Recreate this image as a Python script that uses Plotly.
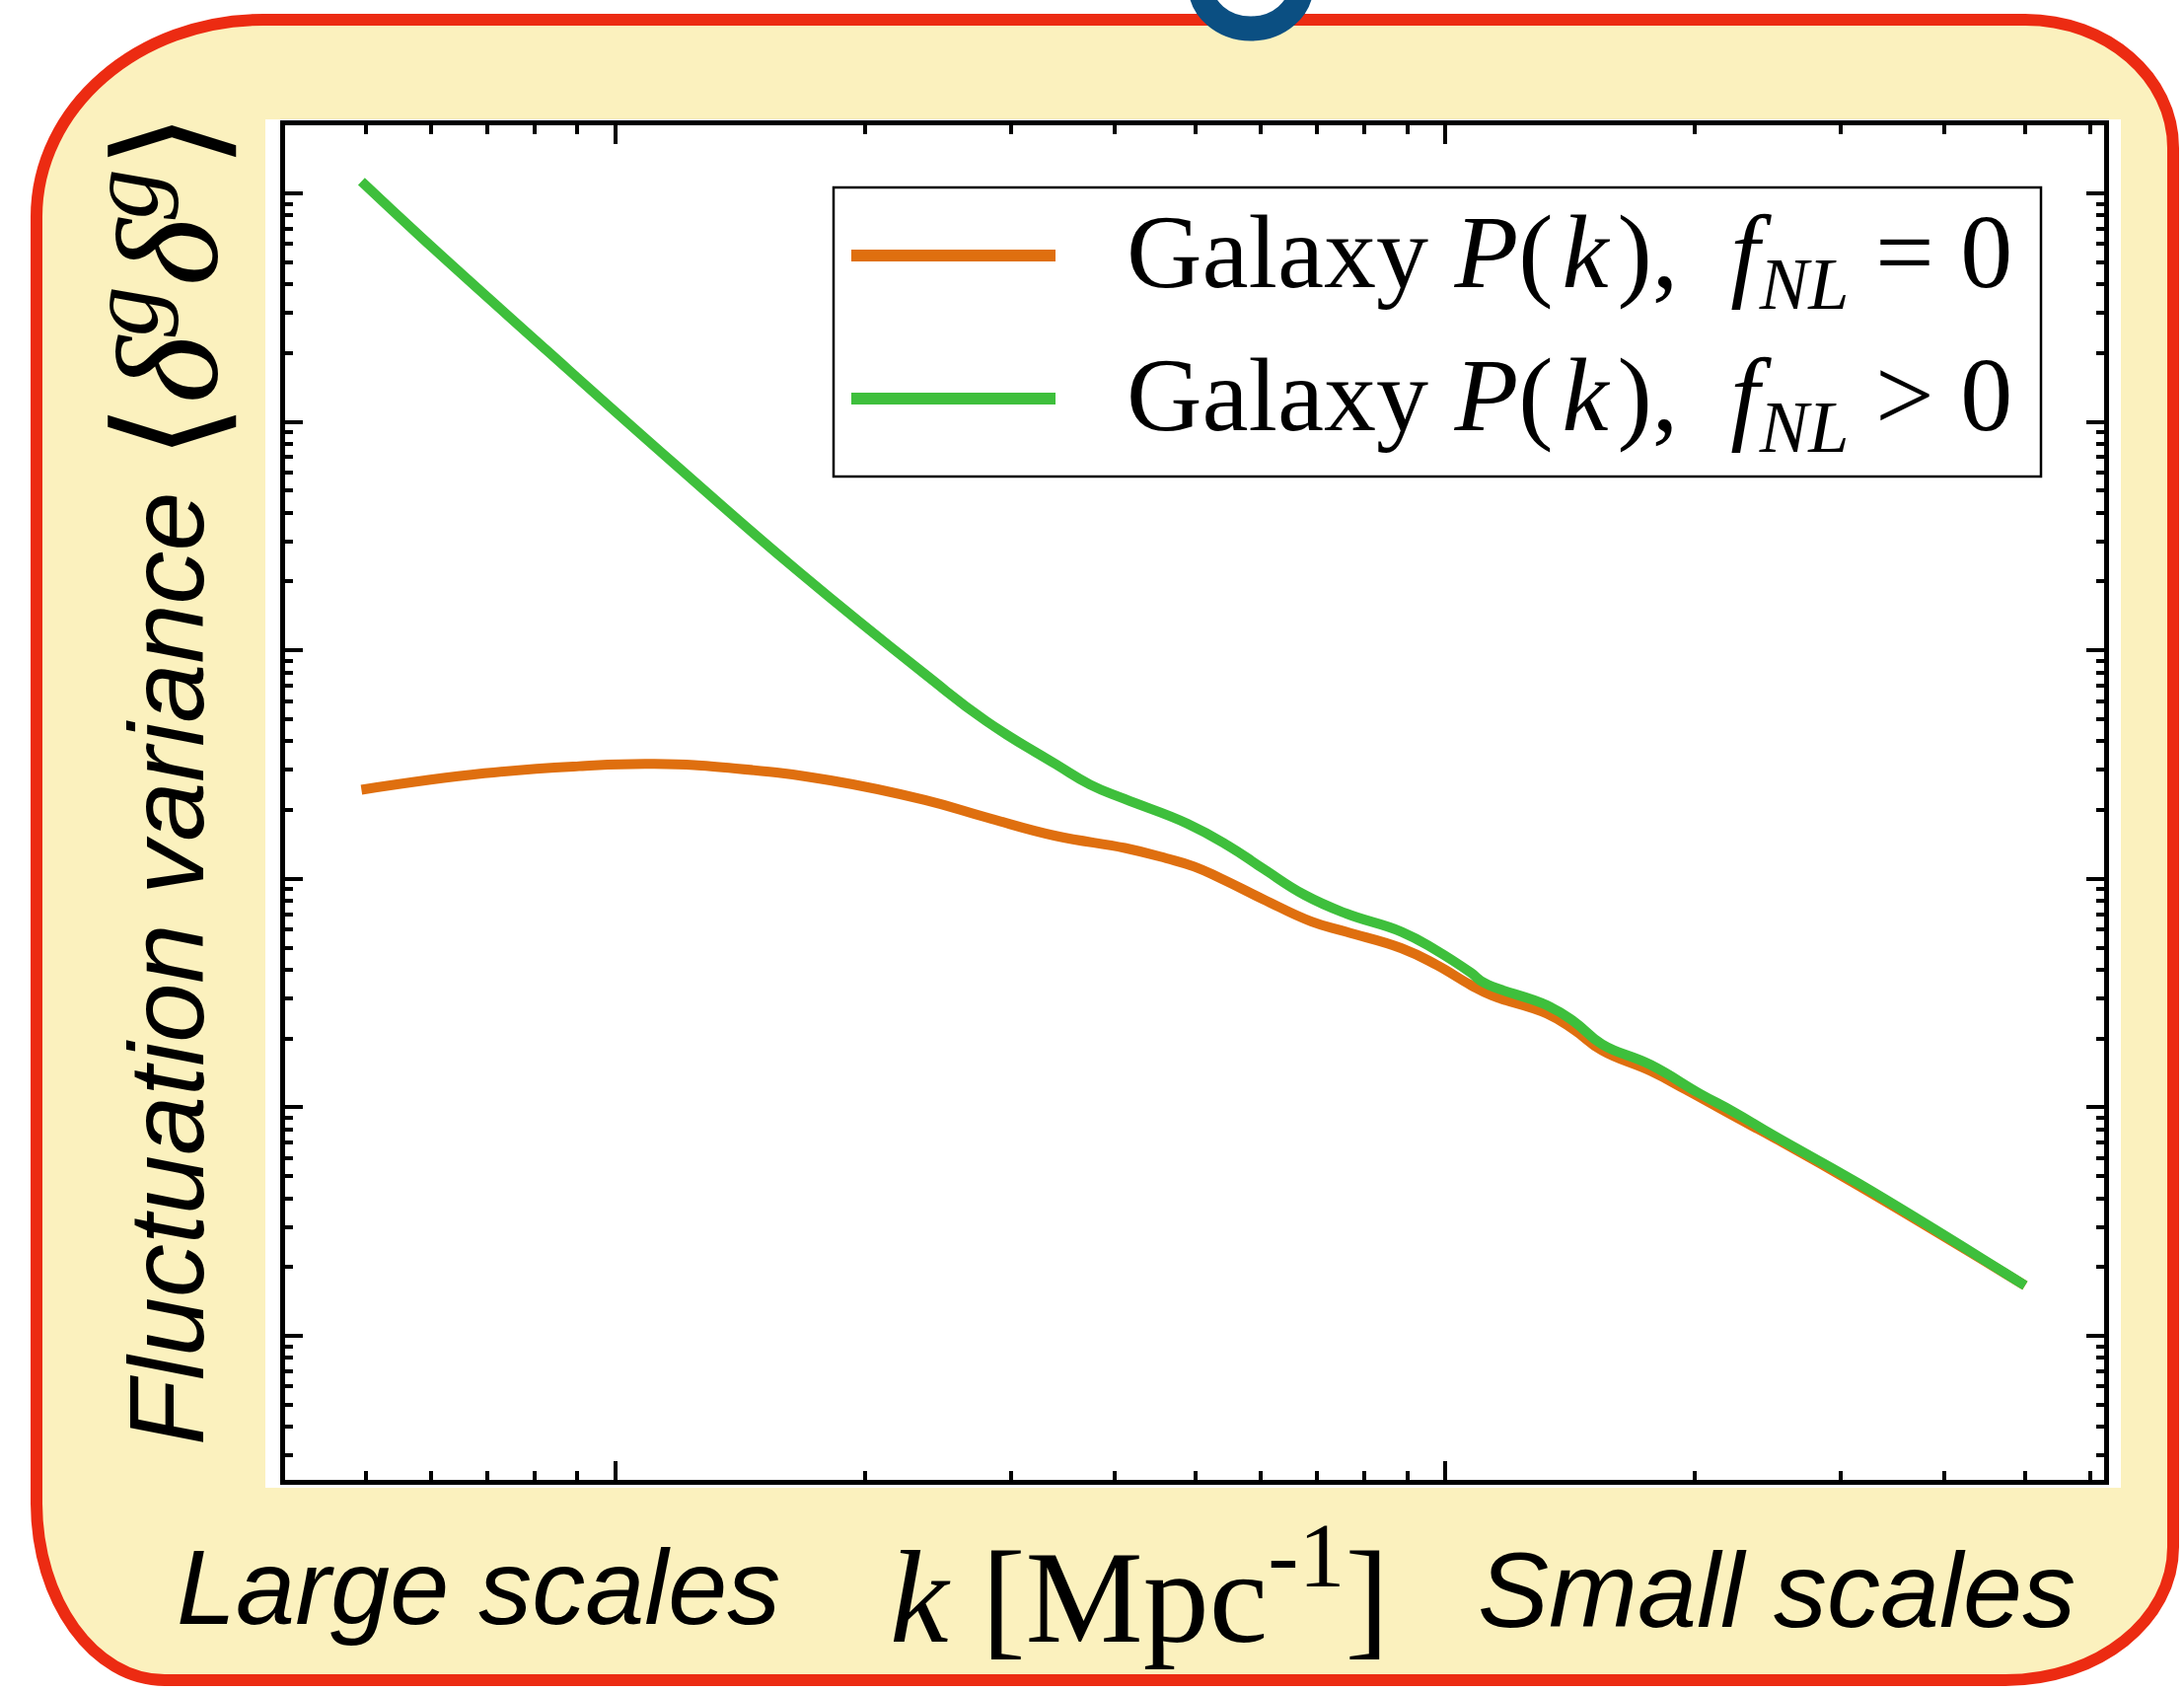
import plotly.graph_objects as go

# ---------------- data ----------------
k_fnl0 = [0.00494, 0.00695, 0.009036, 0.01114, 0.01396, 0.01816, 0.0236, 0.02799,
          0.03393, 0.04111, 0.04613, 0.04983, 0.05377, 0.06034, 0.06902, 0.07603,
          0.08865, 0.09757, 0.1074, 0.1138, 0.1327, 0.1432, 0.1546, 0.1769,
          0.1948, 0.2228, 0.25, 0.3148, 0.5]
p_fnl0 = [24550, 28970, 31120, 31840, 30410, 26980, 22130, 18580,
          15420, 13650, 12300, 11320, 10000, 8147, 6501, 5861,
          4966, 4207, 3428, 3090, 2570, 2178, 1774, 1442,
          1199, 916, 731, 455, 166]

k_fnlpos = [0.00494, 0.005841, 0.008279, 0.01175, 0.01663, 0.0236, 0.02799, 0.03393,
            0.03734, 0.04111, 0.04887, 0.05483, 0.06034, 0.06776, 0.07603, 0.08865,
            0.09757, 0.1074, 0.1116, 0.1327, 0.1432, 0.1546, 0.1769, 0.2025,
            0.2228, 0.25, 0.3148, 0.5]
p_fnlpos = [1.127e7, 6.397e6, 2.042e6, 6.592e5, 2.208e5, 78700, 48980, 31770,
            25820, 22340, 17460, 13930, 11090, 8492, 7047, 5861,
            4864, 3882, 3499, 2793, 2366, 1888, 1535, 1151,
            955, 746, 465, 166]

series_names = ["Galaxy <i>P</i>(\u200a<i>k</i>\u200a),  <i>f</i><sub><i>NL</i></sub> = 0",
                "Galaxy <i>P</i>(\u200a<i>k</i>\u200a),  <i>f</i><sub><i>NL</i></sub> &gt; 0"]
series_colors = ["#DF6F0F", "#3EBF3C"]

y_title = "<i>Fluctuation variance</i>"
y_title_math = "⟨<i>δ</i><sup><i>g</i></sup><i>δ</i><sup><i>g</i></sup>⟩"
x_title = "<i>k</i> [Mpc<sup>-1</sup>]"
left_note = "<i>Large scales</i>"
right_note = "<i>Small scales</i>"

# ---------------- layout geometry (pixels) ----------------
W, H = 2214, 1714
PL, PR, PT, PB = 289, 2133, 127, 1500   # plot area
PW, PH = PR - PL, PB - PT


def xp(px):
    return (px - PL) / PW


def yp(py):
    return (PB - py) / PH


fig = go.Figure()
fig.add_trace(go.Scatter(x=k_fnl0, y=p_fnl0, mode="lines", name="fNL=0",
                         line=dict(color=series_colors[0], width=10, shape="spline", smoothing=1.3),
                         showlegend=False, hoverinfo="skip"))
fig.add_trace(go.Scatter(x=k_fnlpos, y=p_fnlpos, mode="lines", name="fNL>0",
                         line=dict(color=series_colors[1], width=10, shape="spline", smoothing=1.3),
                         showlegend=False, hoverinfo="skip"))

# ---------------- background shapes ----------------
L, T, R, B = 37, 20, 2203, 1703
c = 0.5523
tl = (230, 200)
tr = (150, 130)
br = (170, 135)
bl = (130, 180)


def P(x, y):
    return f"{xp(x):.5f},{yp(y):.5f}"


path = (
    f"M {P(L, T + tl[1])} "
    f"C {P(L, T + tl[1] - c * tl[1])} {P(L + tl[0] - c * tl[0], T)} {P(L + tl[0], T)} "
    f"L {P(R - tr[0], T)} "
    f"C {P(R - tr[0] + c * tr[0], T)} {P(R, T + tr[1] - c * tr[1])} {P(R, T + tr[1])} "
    f"L {P(R, B - br[1])} "
    f"C {P(R, B - br[1] + c * br[1])} {P(R - br[0] + c * br[0], B)} {P(R - br[0], B)} "
    f"L {P(L + bl[0], B)} "
    f"C {P(L + bl[0] - c * bl[0], B)} {P(L, B - bl[1] + c * bl[1])} {P(L, B - bl[1])} Z"
)

shapes = [
    dict(type="path", path=path, xref="paper", yref="paper", layer="below",
         fillcolor="#FBF1BE", line=dict(color="#EC2B12", width=12)),
    dict(type="rect", xref="paper", yref="paper", layer="below",
         x0=xp(269), x1=xp(2150), y0=yp(1508), y1=yp(121),
         fillcolor="white", line=dict(width=0)),
    dict(type="circle", xref="paper", yref="paper", layer="above",
         x0=xp(1217), x1=xp(1319), y0=yp(29), y1=yp(-59),
         fillcolor="white", line=dict(color="#0B4F82", width=25)),
    # legend box
    dict(type="rect", xref="paper", yref="paper", layer="above",
         x0=xp(845), x1=xp(2069), y0=yp(483), y1=yp(190),
         fillcolor="white", line=dict(color="black", width=2.5)),
]
legend_rows = [259, 404]
for yy, col in zip(legend_rows, series_colors):
    shapes.append(dict(type="line", xref="paper", yref="paper", layer="above",
                       x0=xp(863), x1=xp(1070), y0=yp(yy), y1=yp(yy),
                       line=dict(color=col, width=12)))

serif = "Liberation Serif, Times New Roman, serif"
sans = "Liberation Sans, Arial, Helvetica, sans-serif"

annotations = []
for yy, name in zip(legend_rows, series_names):
    annotations.append(dict(text=name, xref="paper", yref="paper", x=xp(1140), y=yp(yy + 4),
                            xanchor="left", yanchor="middle", showarrow=False,
                            font=dict(family=serif, size=106, color="black")))

annotations += [
    dict(text=y_title, xref="paper", yref="paper", x=xp(168), y=yp(982), textangle=-90,
         xanchor="center", yanchor="middle", showarrow=False,
         font=dict(family=sans, size=108, color="black")),
    dict(text=y_title_math, xref="paper", yref="paper", x=xp(160), y=yp(290), textangle=-90,
         xanchor="center", yanchor="middle", showarrow=False,
         font=dict(family=serif, size=146, color="black")),
    dict(text=left_note, xref="paper", yref="paper", x=xp(485), y=yp(1608),
         xanchor="center", yanchor="middle", showarrow=False,
         font=dict(family=sans, size=108, color="black")),
    dict(text=x_title, xref="paper", yref="paper", x=xp(1155), y=yp(1608),
         xanchor="center", yanchor="middle", showarrow=False,
         font=dict(family=serif, size=134, color="black")),
    dict(text=right_note, xref="paper", yref="paper", x=xp(1801), y=yp(1612),
         xanchor="center", yanchor="middle", showarrow=False,
         font=dict(family=sans, size=108, color="black")),
]

axis_common = dict(type="log", showticklabels=False, showgrid=False, zeroline=False,
                   showline=True, linecolor="black", linewidth=5, mirror="ticks",
                   ticks="inside", tickwidth=4, tickcolor="black", dtick=1,
                   minor=dict(ticks="inside", dtick="D1", tickwidth=3.5, tickcolor="black",
                              showgrid=False))

fig.update_layout(
    width=W, height=H,
    margin=dict(l=PL, r=W - PR, t=PT, b=H - PB, pad=0),
    paper_bgcolor="white", plot_bgcolor="rgba(0,0,0,0)",
    showlegend=False,
    xaxis=dict(range=[-2.3983, -0.2057], ticklen=19, **axis_common),
    yaxis=dict(range=[1.3696, 7.298], ticklen=18, **axis_common),
    shapes=shapes, annotations=annotations,
)
fig.update_xaxes(minor_ticklen=9)
fig.update_yaxes(minor_ticklen=8)

fig.write_html("out.html")
